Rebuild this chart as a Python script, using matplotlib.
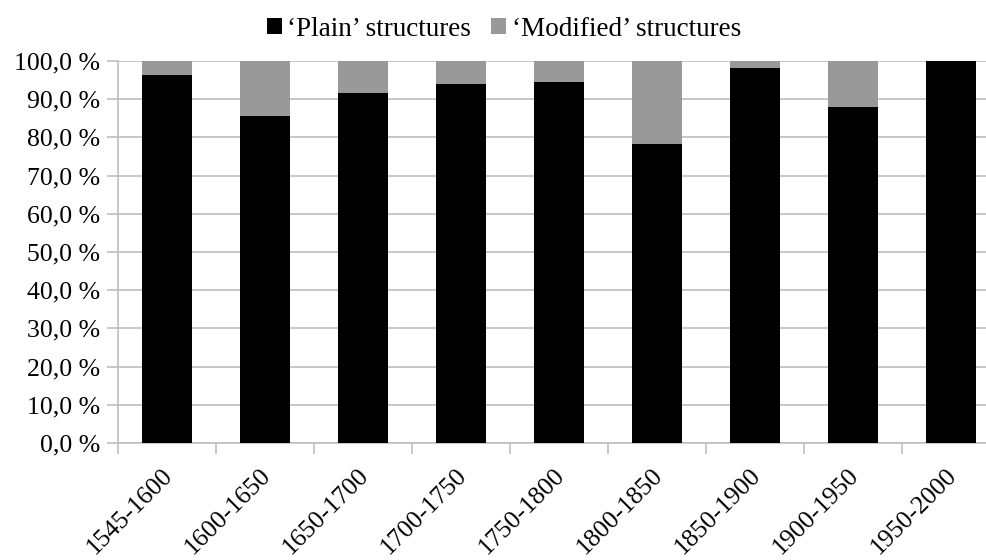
import matplotlib.pyplot as plt
from matplotlib.ticker import FuncFormatter

plt.rcParams['font.family'] = ['Liberation Serif', 'DejaVu Serif']

# periods and share of each structure type (%)
perioder = ['1545-1600', '1600-1650', '1650-1700', '1700-1750', '1750-1800',
            '1800-1850', '1850-1900', '1900-1950', '1950-2000']
plain = [96.3, 85.6, 91.6, 94.0, 94.5, 78.3, 98.2, 88.0, 100.0]
modified = [100 - p for p in plain]

fig = plt.figure(figsize=(9.87, 5.6), dpi=100)
# axes reaches a little past the right edge
ax = fig.add_axes([118 / 987, 117 / 560, 882 / 987, 382 / 560])

x = range(len(perioder))
ax.bar(x, plain, width=0.51, color='black', label='\u2018Plain\u2019 structures', zorder=3)
ax.bar(x, modified, bottom=plain, width=0.51, color='#999999',
       label='\u2018Modified\u2019 structures', zorder=3)

ax.set_xlim(-0.5, len(perioder) - 0.5)
ax.set_ylim(0, 100)
ax.set_yticks(range(0, 101, 10))
ax.yaxis.set_major_formatter(FuncFormatter(lambda v, p: f'{v:.1f} %'.replace('.', ',')))
ax.set_xticks([i - 0.5 for i in x])
ax.set_xticklabels([])
for i, lab in enumerate(perioder):
    ax.text(i + 0.02, -7.6, lab, rotation=45, ha='right', va='center',
            rotation_mode='anchor', fontsize=18.5)

ax.grid(axis='y', color='#bfbfbf', linewidth=1.2, zorder=0)
for s in ['top', 'right']:
    ax.spines[s].set_visible(False)
for s in ['left', 'bottom']:
    ax.spines[s].set_color('#bfbfbf')
    ax.spines[s].set_linewidth(1.2)
ax.tick_params(axis='both', colors='#bfbfbf', length=8, width=1.2, labelcolor='black')
ax.tick_params(axis='y', labelsize=18.5, pad=5)

ax.legend(loc='center', bbox_to_anchor=(504 / 987, 1 - 29 / 560), bbox_transform=fig.transFigure,
          ncol=2, frameon=False, fontsize=19.5, handlelength=0.55, handleheight=0.55,
          handletextpad=0.2, columnspacing=0.75, borderpad=0, borderaxespad=0)

fig.savefig('out.png', dpi=100)
